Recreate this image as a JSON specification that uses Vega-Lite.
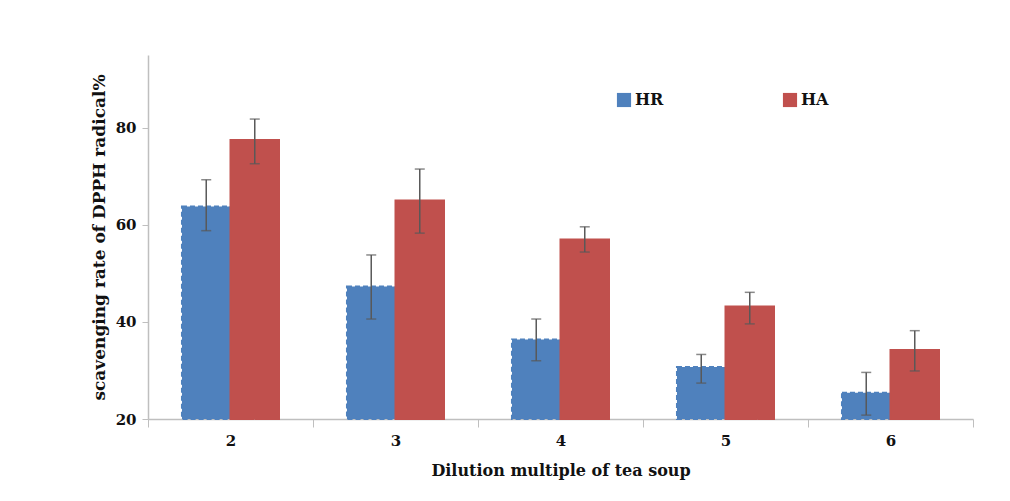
{
  "$schema": "https://vega.github.io/schema/vega-lite/v6.json",
  "width": 825,
  "height": 364,
  "autosize": "none",
  "padding": {"left": 148, "top": 55, "right": 37, "bottom": 82},
  "background": "white",
  "config": {
    "view": {"stroke": null},
    "font": "DejaVu Serif"
  },
  "data": {
    "values": [
      {"dilution": "2", "series": "HR", "value": 63.8, "lo": 58.8, "hi": 69.3},
      {"dilution": "2", "series": "HA", "value": 77.5, "lo": 72.6, "hi": 81.8},
      {"dilution": "3", "series": "HR", "value": 47.3, "lo": 40.6, "hi": 53.8},
      {"dilution": "3", "series": "HA", "value": 65.0, "lo": 58.3, "hi": 71.5},
      {"dilution": "4", "series": "HR", "value": 36.4, "lo": 32.0, "hi": 40.6},
      {"dilution": "4", "series": "HA", "value": 57.0, "lo": 54.4, "hi": 59.6},
      {"dilution": "5", "series": "HR", "value": 30.7, "lo": 27.4, "hi": 33.3},
      {"dilution": "5", "series": "HA", "value": 43.2, "lo": 39.6, "hi": 46.1},
      {"dilution": "6", "series": "HR", "value": 25.4, "lo": 20.8, "hi": 29.6},
      {"dilution": "6", "series": "HA", "value": 34.2, "lo": 29.9, "hi": 38.2}
    ]
  },
  "encoding": {
    "x": {
      "field": "dilution",
      "type": "nominal",
      "sort": ["2", "3", "4", "5", "6"],
      "scale": {"paddingInner": 0, "paddingOuter": 0},
      "axis": {
        "title": "Dilution multiple of tea soup",
        "titleFont": "DejaVu Serif",
        "titleFontSize": 16,
        "titleFontWeight": "bold",
        "titleColor": "#111111",
        "titlePadding": 14,
        "labelFont": "DejaVu Serif",
        "labelFontSize": 15,
        "labelFontWeight": "bold",
        "labelColor": "#111111",
        "labelAngle": 0,
        "labelPadding": 6,
        "tickBand": "extent",
        "tickSize": 8,
        "tickColor": "#bfbfbf",
        "domainColor": "#bfbfbf",
        "domainWidth": 1.5,
        "grid": false
      }
    },
    "xOffset": {
      "field": "series",
      "type": "nominal",
      "sort": ["HR", "HA"],
      "scale": {"paddingOuter": 0.7, "paddingInner": 0}
    }
  },
  "layer": [
    {
      "mark": {"type": "bar", "strokeWidth": 2},
      "encoding": {
        "y": {
          "field": "value",
          "type": "quantitative",
          "scale": {"domain": [20, 95], "zero": false, "nice": false},
          "axis": {
            "title": "scavenging rate of DPPH radical%",
            "titleFont": "DejaVu Serif",
            "titleFontSize": 17,
            "titleFontWeight": "bold",
            "titleColor": "#111111",
            "titlePadding": 7,
            "labelFont": "DejaVu Serif",
            "labelFontSize": 15,
            "labelFontWeight": "bold",
            "labelColor": "#111111",
            "labelPadding": 6,
            "values": [20, 40, 60, 80],
            "tickSize": 6,
            "tickColor": "#bfbfbf",
            "domainColor": "#bfbfbf",
            "domainWidth": 1.5,
            "grid": false
          }
        },
        "y2": {"datum": 20},
        "color": {
          "field": "series",
          "type": "nominal",
          "sort": ["HR", "HA"],
          "scale": {"domain": ["HR", "HA"], "range": ["#4f81bd", "#c0504d"]},
          "legend": {
            "title": null,
            "orient": "none",
            "legendX": 468,
            "legendY": 37,
            "direction": "horizontal",
            "symbolType": "square",
            "symbolSize": 200,
            "symbolStrokeWidth": 0,
            "labelFont": "DejaVu Serif",
            "labelFontSize": 16,
            "labelFontWeight": "bold",
            "labelColor": "#111111",
            "labelOffset": 3,
            "columnPadding": 118
          }
        },
        "stroke": {
          "field": "series",
          "type": "nominal",
          "scale": {"domain": ["HR", "HA"], "range": ["#4f81bd", "#c0504d"]},
          "legend": null
        },
        "strokeDash": {
          "field": "series",
          "type": "nominal",
          "scale": {"domain": ["HR", "HA"], "range": [[5, 3], [1, 0]]},
          "legend": null
        }
      }
    },
    {
      "mark": {"type": "rule", "color": "#595959", "strokeWidth": 1.5},
      "encoding": {
        "y": {"field": "lo", "type": "quantitative"},
        "y2": {"field": "hi"}
      }
    },
    {
      "mark": {"type": "tick", "color": "#595959", "thickness": 1.5, "size": 10},
      "encoding": {
        "y": {"field": "lo", "type": "quantitative"}
      }
    },
    {
      "mark": {"type": "tick", "color": "#595959", "thickness": 1.5, "size": 10},
      "encoding": {
        "y": {"field": "hi", "type": "quantitative"}
      }
    }
  ]
}
